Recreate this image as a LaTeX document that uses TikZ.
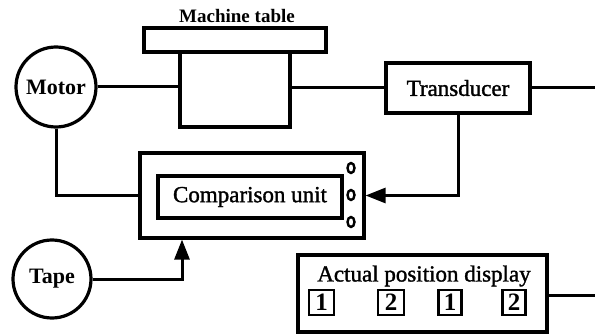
\documentclass[tikz,border=0pt]{standalone}
\usepackage{fontspec}
\setmainfont{Liberation Serif}
\newfontfamily\heavyserif[FakeBold=1.4]{Liberation Serif}
\usetikzlibrary{arrows.meta,calc,shapes.geometric}
\tikzset{
  wire/.style={line width=3pt},
  block/.style={draw, line width=3.2pt, inner sep=0pt},
  roundel/.style={draw, circle, line width=3.2pt, inner sep=0pt},
  digitbox/.style={draw, line width=2.8pt, inner sep=0pt, minimum height=25,
    font=\bfseries\fontsize{25}{25}\selectfont},
  port/.style={draw, ellipse, line width=2.4pt, minimum width=7, minimum height=10, inner sep=0pt},
  txt/.style={font=\heavyserif\fontsize{23}{27}\selectfont},
  tip/.style={-{Triangle[length=20pt,width=15pt]}}
}
\begin{document}
\begin{tikzpicture}[x=1pt,y=-1pt]
\useasboundingbox (0,0) rectangle (595,334);

% machine table with its carriage
\node[font=\bfseries\fontsize{19}{22}\selectfont] (tablelabel) at (237,16) {Machine table};
\node[block, minimum width=182, minimum height=24] (bar) at (235,40) {};
\node[block, minimum width=110, minimum height=75] (carriage) at (235,89.5) {};

% drive and measuring elements
\node[roundel, minimum size=80, font=\bfseries\fontsize{22}{26}\selectfont] (motor) at (56,87) {Motor};
\node[block, minimum width=144, minimum height=50, txt] (trans) at (458,88) {Transducer};

% comparison unit
\node[block, minimum width=224, minimum height=85] (cmp) at (252,195.5) {};
\node[block, minimum width=184, minimum height=42, txt] (cmpin) at (250,197) {Comparison unit};
\node[port] (p1) at (351,168) {};
\node[port] (p2) at (351,195) {};
\node[port] (p3) at (351,222) {};

% tape input
\node[roundel, minimum size=78, font=\bfseries\fontsize{22}{26}\selectfont] (tape) at (52,279) {Tape};

% actual position display
\node[block, minimum width=249, minimum height=77] (disp) at (422.5,293.5) {};
\node[txt] (disptext) at (424,276) {Actual position display};
\node[digitbox, minimum width=25] (d1) at (321.5,302.5) {1};
\node[digitbox, minimum width=26] (d2) at (391,302.5) {2};
\node[digitbox, minimum width=23] (d3) at (450,302.5) {1};
\node[digitbox, minimum width=23] (d4) at (514,302.5) {2};

% free line ends at the right edge
\coordinate (outT) at (595,88);
\coordinate (outD) at (595,295);

% connections
\draw[wire] (motor.east) -- (carriage.west |- motor.east);
\draw[wire] (carriage.east |- trans.west) -- (trans.west);
\draw[wire] (trans.east) -- (outT);
\draw[wire] (motor.south) |- (cmp.west);
\draw[wire, tip] (trans.south) |- (cmp.east);
\draw[wire, tip] (tape.east) -| ([xshift=-70pt]cmp.south);
\draw[wire] (disp.east |- outD) -- (outD);
\end{tikzpicture}
\end{document}
